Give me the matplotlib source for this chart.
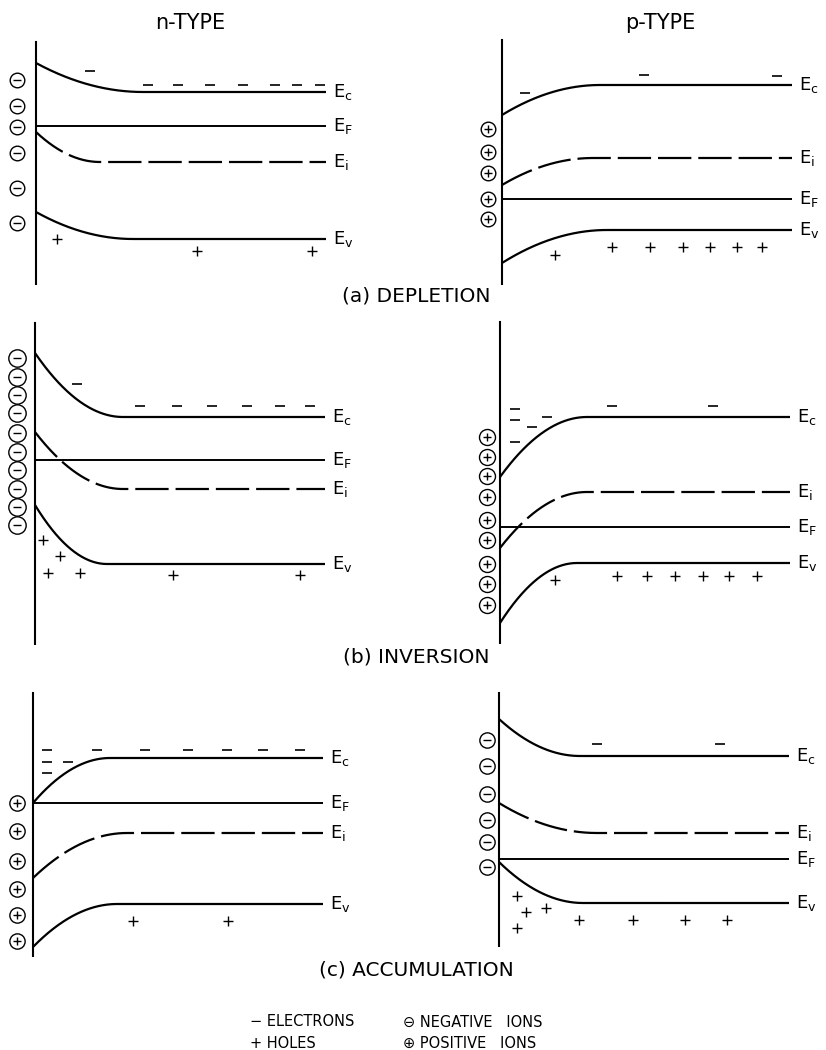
import numpy as np
import matplotlib.pyplot as plt

plt.rcParams['font.family'] = 'DejaVu Sans'
plt.rcParams['lines.scale_dashes'] = False

W, H = 826, 1050
LINE_END = 290

# band edges: (surface value, bulk value, bending width), energies measured upward
# from the bottom of each panel, depth measured from the surface
depl_n_bands = {'c': (222, 193, 107), 'F': (159, 159, 1), 'i': (153, 123, 64), 'v': (73, 46, 97)}
depl_n_ions = [205, 179, 158, 132, 97, 62]
depl_n_electrons = [(54, 214), (112, 200), (142, 200), (174, 200), (207, 200), (239, 200), (261, 200), (284, 200)]
depl_n_holes = [(21, 46), (161, 34), (276, 34)]

depl_p_bands = {'c': (170, 200, 98), 'i': (100, 127, 91), 'F': (86, 86, 1), 'v': (22, 55, 105)}
depl_p_ions = [156, 133, 112, 86, 66]
depl_p_electrons = [(23, 192), (142, 210), (275, 209)]
depl_p_holes = [(53, 30), (110, 38), (148, 38), (181, 38), (208, 38), (235, 38), (260, 38)]

inv_n_bands = {'c': (292, 228, 88), 'F': (185, 185, 1), 'i': (213, 156, 88), 'v': (140, 81, 72)}
inv_n_ions = [287, 268, 250, 232, 212, 193, 175, 156, 138, 120]
inv_n_electrons = [(42, 261), (105, 239), (142, 239), (177, 239), (212, 239), (245, 239), (275, 239)]
inv_n_holes = [(8, 105), (25, 89), (13, 72), (45, 72), (138, 70), (265, 70)]

inv_p_bands = {'c': (167, 227, 87), 'i': (96, 152, 87), 'F': (117, 117, 1), 'v': (21, 81, 77)}
inv_p_ions = [207, 187, 168, 147, 124, 104, 80, 60, 39]
inv_p_electrons = [(15, 235), (15, 224), (47, 227), (32, 217), (15, 202), (112, 238), (213, 238)]
inv_p_holes = [(55, 64), (117, 68), (147, 68), (175, 68), (203, 68), (229, 68), (257, 68)]

acc_n_bands = {'c': (154, 199, 77), 'F': (154, 154, 1), 'i': (79, 124, 94), 'v': (10, 53, 84)}
acc_n_ions = [154, 126, 96, 68, 42, 16]
acc_n_electrons = [(14, 207), (64, 207), (112, 207), (155, 207), (194, 207), (230, 207), (267, 207),
                   (14, 195), (35, 195), (14, 184)]
acc_n_holes = [(100, 36), (195, 36)]

acc_p_bands = {'c': (228, 191, 81), 'i': (144, 114, 98), 'F': (88, 88, 1), 'v': (85, 44, 84)}
acc_p_ions = [207, 181, 153, 127, 105, 80]
acc_p_electrons = [(98, 203), (221, 203)]
acc_p_holes = [(18, 51), (27, 35), (47, 39), (18, 19), (80, 27), (134, 27), (186, 27), (228, 27)]

# panel placement in the page: surface x, panel floor y, surface line height, ion column x, ion size
panels = [
    (36, 285, 243, -19, '-', 10.5, depl_n_bands, depl_n_ions, depl_n_electrons, depl_n_holes),
    (502, 285, 245, -14, '+', 10.5, depl_p_bands, depl_p_ions, depl_p_electrons, depl_p_holes),
    (35, 645, 322, -18, '-', 12.5, inv_n_bands, inv_n_ions, inv_n_electrons, inv_n_holes),
    (500, 644, 322, -13, '+', 11.5, inv_p_bands, inv_p_ions, inv_p_electrons, inv_p_holes),
    (33, 957, 264, -16, '+', 11.0, acc_n_bands, acc_n_ions, acc_n_electrons, acc_n_holes),
    (499, 947, 254, -12, '-', 11.0, acc_p_bands, acc_p_ions, acc_p_electrons, acc_p_holes),
]


def draw_band(ax, surf, bulk, width, dashed):
    x = np.linspace(0, LINE_END, 400)
    t = np.clip(1 - x / width, 0, None)
    y = bulk + (surf - bulk) * t ** 2
    if dashed:
        ax.plot(x, y, color='black', lw=1.6, ls=(0, (24, 5)), solid_capstyle='butt')
    else:
        ax.plot(x, y, color='black', lw=1.6 if surf != bulk else 1.4, solid_capstyle='butt')


fig = plt.figure(figsize=(W / 100, H / 100), dpi=100)

for sx, floor, top, ion_x, sign, ion_size, bands, ions, electrons, holes in panels:
    ax = fig.add_axes([(sx - 30) / W, (H - floor) / H, 340 / W, 330 / H])
    ax.set_xlim(-30, 310)
    ax.set_ylim(0, 330)
    ax.axis('off')

    ax.plot([0, 0], [0, top], color='black', lw=1.5)

    for name, (surf, bulk, width) in bands.items():
        draw_band(ax, surf, bulk, width, dashed=(name == 'i'))
        ax.text(LINE_END + 7, bulk, r'$\mathregular{E_{%s}}$' % name, fontsize=13,
                va='center', ha='left', clip_on=False)

    ix = np.full(len(ions), ion_x)
    ax.plot(ix, ions, ls='none', marker='o', ms=ion_size, mfc='white', mec='black',
            mew=1.0, clip_on=False)
    ax.plot(ix, ions, ls='none', marker='_' if sign == '-' else '+', ms=ion_size * 0.5,
            mec='black', mew=1.0, clip_on=False)

    ex, ey = zip(*electrons)
    ax.plot(ex, ey, ls='none', marker='_', ms=7, mew=1.2, color='black', clip_on=False)
    hx, hy = zip(*holes)
    ax.plot(hx, hy, ls='none', marker='+', ms=7, mew=1.0, color='black', clip_on=False)

fig.text(190 / W, 1 - 23 / H, 'n-TYPE', ha='center', va='center', fontsize=15)
fig.text(660 / W, 1 - 23 / H, 'p-TYPE', ha='center', va='center', fontsize=15)

fig.text(416 / W, 1 - 296 / H, '(a) DEPLETION', ha='center', va='center', fontsize=14.5)
fig.text(416 / W, 1 - 657 / H, '(b) INVERSION', ha='center', va='center', fontsize=14.5)
fig.text(416 / W, 1 - 970 / H, '(c) ACCUMULATION', ha='center', va='center', fontsize=14.5)

fig.text(250 / W, 1 - 1022 / H, '\u2212 ELECTRONS', ha='left', va='center', fontsize=10.5)
fig.text(250 / W, 1 - 1043 / H, '+ HOLES', ha='left', va='center', fontsize=10.5)
fig.text(403 / W, 1 - 1022 / H, '\u2296 NEGATIVE   IONS', ha='left', va='center', fontsize=10.5)
fig.text(403 / W, 1 - 1043 / H, '\u2295 POSITIVE   IONS', ha='left', va='center', fontsize=10.5)

fig.savefig('out.png', dpi=100, facecolor='white')
